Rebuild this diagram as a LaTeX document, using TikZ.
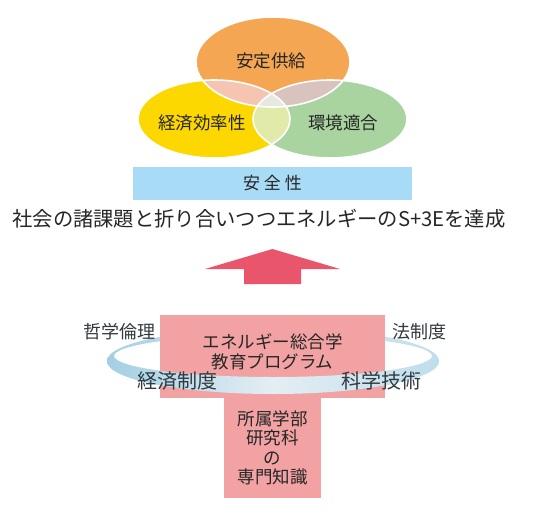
\documentclass[tikz,border=0pt]{standalone}
\usepackage{fontspec}
\setmainfont{Noto Sans CJK JP}
\usepackage{xcolor}
\usetikzlibrary{positioning}
\definecolor{supply}{HTML}{F4A652}
\definecolor{econ}{HTML}{FCD700}
\definecolor{enviro}{HTML}{A9D4A0}
\definecolor{ovSE}{HTML}{F6C5B2}
\definecolor{ovSG}{HTML}{D9C3BE}
\definecolor{ovEG}{HTML}{E2EAAA}
\definecolor{ovAll}{HTML}{E6E8E1}
\definecolor{safety}{HTML}{A8DBF5}
\definecolor{upred}{HTML}{E9566B}
\definecolor{progpink}{HTML}{F2A2A2}
\definecolor{ringblue}{HTML}{A3CFE3}
\definecolor{ringpale}{HTML}{E3EEF3}
\definecolor{inkgray}{HTML}{303A3F}
\begin{document}
\begin{tikzpicture}[x=1pt,y=-1pt,
  every node/.style={text=black!85},
  elltxt/.style={font=\fontsize{17.5}{19}\selectfont},
  bar/.style={fill=safety,minimum width=279pt,minimum height=33pt,inner sep=0pt},
  pbox/.style={fill=progpink,inner sep=0pt,align=center,
               font=\fontsize{17.5}{19.5}\selectfont},
  ringtxt/.style={text=inkgray,font=\fontsize{18}{20}\selectfont},
  ringtxtL/.style={text=inkgray,font=\fontsize{20}{22}\selectfont},
  ring/.style={even odd rule,left color=ringblue,right color=ringblue!70!white,
               middle color=ringpale}]
\useasboundingbox (0,0) rectangle (545,525);

% three E's
\coordinate (cS) at (273,62);
\coordinate (cE) at (214,119);
\coordinate (cG) at (330,119);
\fill[supply] (cS) ellipse (77pt and 45pt);
\fill[econ] (cE) ellipse (76pt and 39pt);
\fill[enviro] (cG) ellipse (77pt and 39pt);
\begin{scope}
  \clip (cS) ellipse (77pt and 45pt);
  \fill[ovSE] (cE) ellipse (76pt and 39pt);
  \fill[ovSG] (cG) ellipse (77pt and 39pt);
\end{scope}
\begin{scope}
  \clip (cE) ellipse (76pt and 39pt);
  \fill[ovEG] (cG) ellipse (77pt and 39pt);
\end{scope}
\begin{scope}
  \clip (cS) ellipse (77pt and 45pt);
  \clip (cE) ellipse (76pt and 39pt);
  \fill[ovAll] (cG) ellipse (77pt and 39pt);
\end{scope}
\draw[white,line width=1.6pt] (cS) ellipse (77pt and 45pt)
  (cE) ellipse (76pt and 39pt) (cG) ellipse (77pt and 39pt);
\node[elltxt] (supplyT) at (271,61) {安定供給};
\node[elltxt] (econT) at (202,123) {経済効率性};
\node[elltxt] (envT) at (343,123) {環境適合};

% safety + goal
\node[bar,font=\fontsize{17}{19}\selectfont] (safe) at (272.5,183.5)
  {安\hspace{4pt}全\hspace{4pt}性};
\node[font=\fontsize{20.3}{22}\selectfont] (goal) at (259,219)
  {社会の諸課題と折り合いつつエネルギーのS+3Eを達成};

% block arrow
\fill[upred] (244,284) -- (244,269) -- (205,269) -- (272.5,249)
  -- (340,269) -- (301,269) -- (301,284) -- cycle;

% ring (back)
\coordinate (rc) at (273,361);
\shade[ring] (rc) ellipse (166pt and 33pt) ([yshift=5pt]rc) ellipse (159pt and 21pt);

% program boxes
\node[pbox,minimum width=97pt,minimum height=100pt] (major) at (272.5,448)
  {所属学部\\研究科\\の\\専門知識};
\node[pbox,minimum width=225pt,minimum height=83pt] (prog) at (272.5,356.5) {};
\node[pbox,fill=none] (progT) at (272.5,352) {エネルギー総合学\\教育プログラム};

% ring (front)
\begin{scope}
  \clip (90,358) rectangle (460,410);
  \shade[ring] (rc) ellipse (166pt and 33pt) ([yshift=5pt]rc) ellipse (159pt and 21pt);
\end{scope}

\node[ringtxt] (phil) at (119,332) {哲学倫理};
\node[ringtxt] (law) at (419,332) {法制度};
\node[ringtxtL] (ecoinst) at (177,381) {経済制度};
\node[ringtxtL] (scitech) at (381,381) {科学技術};
\end{tikzpicture}
\end{document}
